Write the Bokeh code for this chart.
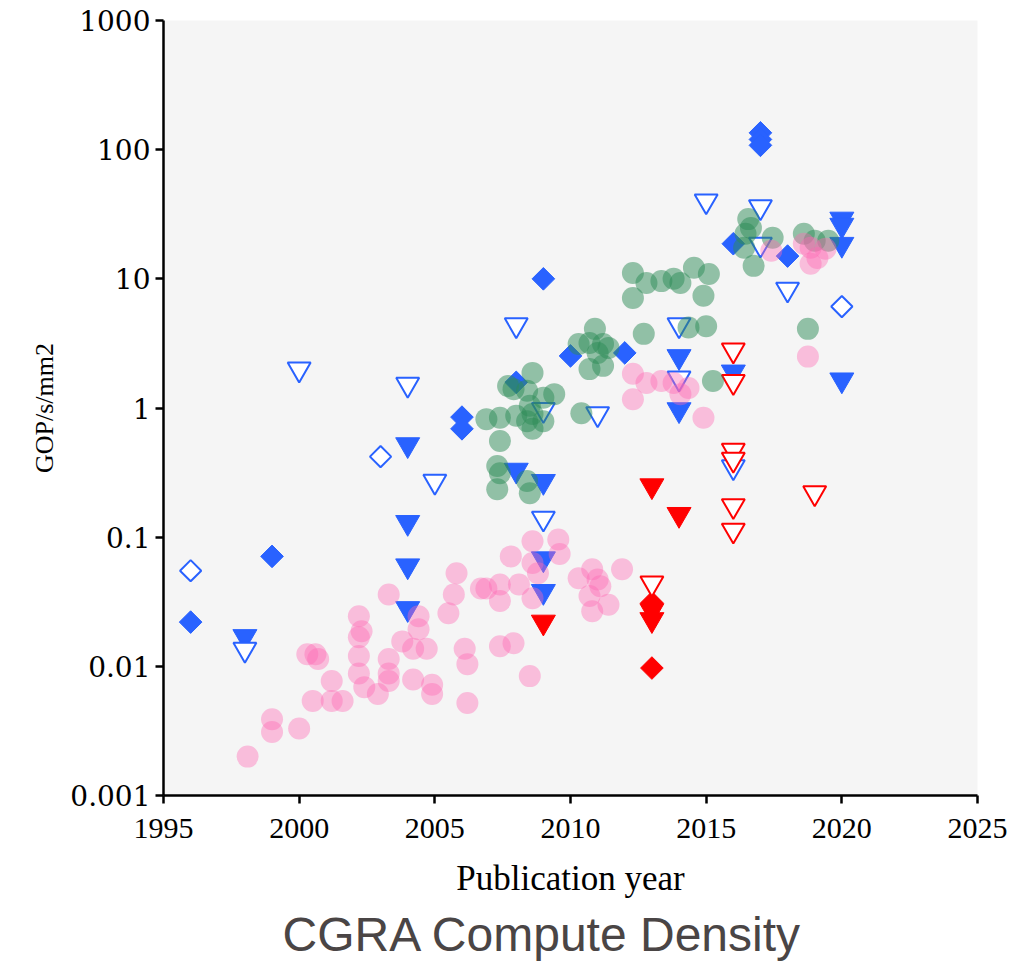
import numpy as np
from bokeh.plotting import figure
from bokeh.models import Range1d, FixedTicker, Title
from bokeh.embed import file_html
from bokeh.resources import INLINE

# ---------------- data ----------------
pink_year = [1998.1, 1999.0, 1999.0, 2000.0, 2000.5, 2001.2, 2001.6, 2001.2, 2000.3, 2000.6,
             2000.7, 2002.2, 2002.3, 2002.2, 2002.2, 2002.2, 2002.4, 2002.9, 2003.3, 2003.3,
             2003.3, 2003.3, 2003.8, 2004.2, 2004.2, 2004.7, 2004.4, 2004.4, 2004.9, 2004.9,
             2005.8, 2005.7, 2005.5, 2006.1, 2006.2, 2006.2, 2006.7, 2006.9, 2007.4, 2007.4,
             2008.1, 2007.8, 2008.6, 2008.6, 2008.8, 2008.6, 2009.55, 2009.6, 2007.4, 2007.9,
             2008.5, 2010.3, 2010.8, 2011.0, 2011.1, 2010.7, 2010.8, 2011.4, 2011.9, 2012.3,
             2012.3, 2012.8, 2013.35, 2013.8, 2014.05, 2014.35, 2014.9, 2017.4, 2018.75, 2018.6,
             2018.85, 2019.1, 2018.85, 2019.4]
pink_val = [0.002, 0.0039, 0.0031, 0.0033, 0.0054, 0.0054, 0.0054, 0.0077, 0.0124, 0.0124,
            0.0114, 0.0244, 0.0187, 0.0168, 0.012, 0.0088, 0.0069, 0.0061, 0.036, 0.0114,
            0.0088, 0.0077, 0.0156, 0.0137, 0.0079, 0.0137, 0.0244, 0.0194, 0.0072, 0.0061,
            0.0526, 0.036, 0.0258, 0.0137, 0.0104, 0.0052, 0.040, 0.040, 0.043, 0.032,
            0.043, 0.071, 0.093, 0.063, 0.0526, 0.0337, 0.096, 0.074, 0.0143, 0.0151,
            0.0084, 0.048, 0.0565, 0.047, 0.0417, 0.035, 0.0267, 0.030, 0.0565, 1.84,
            1.17, 1.56, 1.62, 1.56, 1.28, 1.43, 0.84, 16.5, 2.5, 18.7,
            17.4, 14.5, 13.1, 17.1]

green_year = [2010.9, 2010.3, 2010.7, 2011.2, 2011.4, 2011.0, 2010.7, 2011.2, 2012.7, 2008.6,
              2007.9, 2007.7, 2008.4, 2009.4, 2009.0, 2008.5, 2008.6, 2008.4, 2009.0, 2006.9,
              2007.4, 2008.0, 2008.6, 2010.4, 2007.4, 2007.3, 2007.4, 2007.3, 2008.4, 2008.5,
              2012.3, 2012.8, 2013.35, 2013.8, 2014.05, 2014.55, 2015.1, 2012.3, 2014.9, 2014.35,
              2015.0, 2015.25, 2016.55, 2016.65, 2016.45, 2017.45, 2016.75, 2018.6, 2019.0, 2019.5,
              2018.75, 2016.4]
green_val = [4.1, 3.13, 3.19, 3.13, 2.92, 2.67, 2.0, 2.12, 3.75, 1.87,
             1.40, 1.48, 1.36, 1.28, 1.2, 1.04, 0.90, 0.79, 0.79, 0.82,
             0.84, 0.87, 0.69, 0.91, 0.555, 0.355, 0.313, 0.235, 0.272, 0.219,
             11.1, 9.3, 9.6, 10.0, 9.3, 12.2, 10.9, 7.1, 7.4, 4.2,
             4.3, 1.62, 29.0, 24.8, 22.3, 20.8, 12.6, 22.3, 19.7, 19.7,
             4.1, 17.4]

blue_diamond_year = [1996, 1999, 2006, 2006, 2009, 2008, 2010, 2012, 2016, 2018, 2017, 2017, 2017]
blue_diamond_val = [0.022, 0.071, 0.85, 0.69, 10.0, 1.58, 2.53, 2.67, 18.7, 15.0, 135, 120, 108]

blue_open_diamond_year = [1996, 2003, 2020]
blue_open_diamond_val = [0.055, 0.42, 6.1]

blue_tri_year = [1998, 2004, 2004, 2004, 2004, 2008, 2009, 2009, 2009, 2014, 2014, 2016,
                 2020, 2020, 2020, 2020]
blue_tri_val = [0.017, 0.52, 0.13, 0.06, 0.028, 0.33, 0.27, 0.068, 0.038, 2.5, 0.97, 1.9,
                29, 26, 18.5, 1.65]

blue_open_tri_year = [1998, 2000, 2004, 2005, 2008, 2009, 2009, 2011, 2014, 2014, 2015, 2016,
                      2017, 2017, 2018]
blue_open_tri_val = [0.0135, 2.0, 1.52, 0.27, 4.4, 0.97, 0.14, 0.9, 4.4, 1.7, 40, 0.35,
                     36, 18.5, 8.3]

red_tri_year = [2009, 2013, 2014, 2013, 2013]
red_tri_val = [0.022, 0.25, 0.15, 0.027, 0.023]

red_diamond_year = [2013, 2013]
red_diamond_val = [0.0097, 0.031]

red_open_tri_year = [2013, 2016, 2016, 2016, 2016, 2016, 2016, 2019]
red_open_tri_val = [0.044, 2.8, 1.6, 0.47, 0.40, 0.175, 0.113, 0.22]

x_ticks = [1995, 2000, 2005, 2010, 2015, 2020, 2025]
y_ticks = [0.001, 0.01, 0.1, 1, 10, 100, 1000]
y_tick_labels = ["0.001", "0.01", "0.1", "1", "10", "100", "1000"]

BLUE = "#2962ff"
RED = "#ff0000"

# ---------------- figure ----------------
p = figure(width=1010, height=965, y_axis_type="log",
           x_range=Range1d(1995, 2025), y_range=Range1d(0.001, 1000),
           output_backend="svg", toolbar_location=None,
           min_border_left=163, min_border_right=33, min_border_top=20,
           min_border_bottom=170)
p.background_fill_color = "#f5f5f5"
p.border_fill_color = "white"
p.outline_line_color = None
p.grid.visible = False

# blue / red markers (drawn first, circles overlay them)
p.scatter(blue_tri_year, blue_tri_val, marker="inverted_triangle", size=24,
          fill_color=BLUE, line_color=BLUE, line_width=1)
p.scatter(blue_diamond_year, blue_diamond_val, marker="square", angle=np.pi / 4, size=16,
          fill_color=BLUE, line_color=BLUE, line_width=1)
p.scatter(blue_open_diamond_year, blue_open_diamond_val, marker="square", angle=np.pi / 4,
          size=15, fill_color="white", line_color=BLUE, line_width=2)
p.scatter(blue_open_tri_year, blue_open_tri_val, marker="inverted_triangle", size=23,
          fill_color="white", line_color=BLUE, line_width=2)
p.scatter(red_tri_year, red_tri_val, marker="inverted_triangle", size=24,
          fill_color=RED, line_color=RED, line_width=1)
p.scatter(red_diamond_year, red_diamond_val, marker="square", angle=np.pi / 4, size=16,
          fill_color=RED, line_color=RED, line_width=1)
p.scatter(red_open_tri_year, red_open_tri_val, marker="inverted_triangle", size=23,
          fill_color="white", line_color=RED, line_width=2)

# circles
p.scatter(green_year, green_val, marker="circle", size=22,
          fill_color="#2e8b57", fill_alpha=0.5, line_color=None)
p.scatter(pink_year, pink_val, marker="circle", size=22,
          fill_color="#ff69b4", fill_alpha=0.4, line_color=None)

# axes
for ax in (p.xaxis[0], p.yaxis[0]):
    ax.axis_line_color = "black"
    ax.axis_line_width = 2.5
    ax.major_tick_line_color = "black"
    ax.major_tick_line_width = 2.5
    ax.major_tick_out = 8
    ax.major_tick_in = 0
    ax.minor_tick_line_color = None
    ax.major_label_text_color = "black"
    ax.axis_label_text_color = "black"
    ax.axis_label_text_font_style = "normal"

p.xaxis.ticker = FixedTicker(ticks=x_ticks)
p.xaxis.major_label_text_font = "Liberation Serif"
p.xaxis.major_label_text_font_size = "30px"
p.xaxis.major_label_standoff = 15
p.xaxis.axis_label = "Publication year"
p.xaxis.axis_label_text_font = "Liberation Serif"
p.xaxis.axis_label_text_font_size = "35px"
p.xaxis.axis_label_standoff = 18

p.yaxis.ticker = FixedTicker(ticks=y_ticks)
p.yaxis.major_label_overrides = {t: l for t, l in zip(y_ticks, y_tick_labels)}
p.yaxis.major_label_text_font = "DejaVu Serif"
p.yaxis.major_label_text_font_size = "28px"
p.yaxis.major_label_standoff = 5
p.yaxis.axis_label = "GOP/s/mm2"
p.yaxis.axis_label_text_font = "Liberation Serif"
p.yaxis.axis_label_text_font_size = "26px"
p.yaxis.axis_label_standoff = 8

title = Title(text="CGRA Compute Density", align="left", offset=119,
              text_font="Liberation Sans", text_font_size="48px",
              text_font_style="normal", text_color="#4a4545", standoff=10)
p.add_layout(title, "below")

open("out.html", "w").write(file_html(p, INLINE))
